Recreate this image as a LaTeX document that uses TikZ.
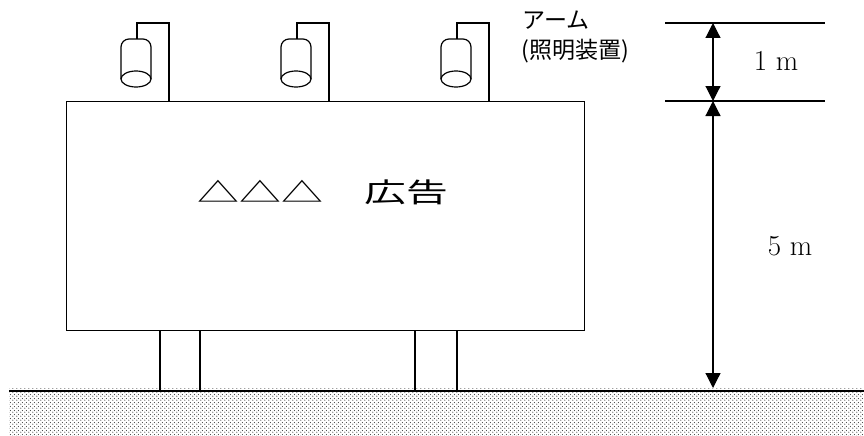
\documentclass[tikz,border=0pt]{standalone}
\usepackage{fontspec}
\newfontfamily\cjk{Noto Sans CJK JP}
\usetikzlibrary{patterns.meta,arrows.meta}

\tikzdeclarepattern{
  name=grounddots,
  type=uncolored,
  bounding box={(0pt,0pt) and (4pt,4pt)},
  tile size={(4pt,4pt)},
  code={
    \fill (1pt,1pt) circle (0.7pt);
    \fill (3pt,3pt) circle (0.7pt);
  }
}

\tikzset{
  dimarrow/.style={{Triangle[length=15pt,width=15pt]}-{Triangle[length=15pt,width=15pt]}},
  jlabel/.style={font=\cjk\fontsize{23}{26}\selectfont, inner sep=0pt},
  mlabel/.style={font=\fontsize{29}{32}\selectfont, inner sep=0pt}
}

\begin{document}
\begin{tikzpicture}[x=1pt,y=-1pt,line width=1.2pt]
    \useasboundingbox (0,0) rectangle (864,436);
    % ground
    \fill[pattern=grounddots, pattern color=black!75] (9,388) rectangle (864,436);
    \coordinate (gl) at (9,391);
    \coordinate (gr) at (864,391);
    \draw (gl) -- (gr);
    % sign and legs
    \node[draw, minimum width=518pt, minimum height=229pt, inner sep=0pt, anchor=north west] (sign) at (66,101) {};
    \draw (160,330) -- (160,391);
    \draw (200,330) -- (200,391);
    \draw (415,330) -- (415,391);
    \draw (457,330) -- (457,391);
    \node[font=\cjk\fontsize{27}{30}\selectfont, xscale=1.55, inner sep=0pt] (title) at (323,192) {△△△　広告};
    % lamps
    \foreach \x in {136,296,456} {
      \draw[rounded corners=8pt] (\x-15,79) -- (\x-15,39) -- (\x+15,39) -- (\x+15,79);
      \draw (\x,79) ellipse [x radius=15pt, y radius=8pt];
      \draw (\x+1,39) -- (\x+1,23) -- (\x+33,23) -- (\x+33,101);
    }
    \node[jlabel, anchor=west] (arm) at (522,20) {アーム};
    \node[jlabel, anchor=west] (lampnote) at (521,51) {(照明装置)};
    % dimensions
    \coordinate (d1l) at (665,23);
    \coordinate (d1r) at (825,23);
    \coordinate (d2l) at (665,101);
    \coordinate (d2r) at (825,101);
    \draw (d1l) -- (d1r);
    \draw (d2l) -- (d2r);
    \coordinate (a1) at (713,23);
    \coordinate (a2) at (713,101);
    \coordinate (a3) at (713,388);
    \draw[dimarrow] (a1) -- (a2);
    \draw[dimarrow] (a2) -- (a3);
    \node[mlabel] (onem) at (776,61) {1 m};
    \node[mlabel] (fivem) at (790,246) {5 m};
  \end{tikzpicture}
\end{document}
